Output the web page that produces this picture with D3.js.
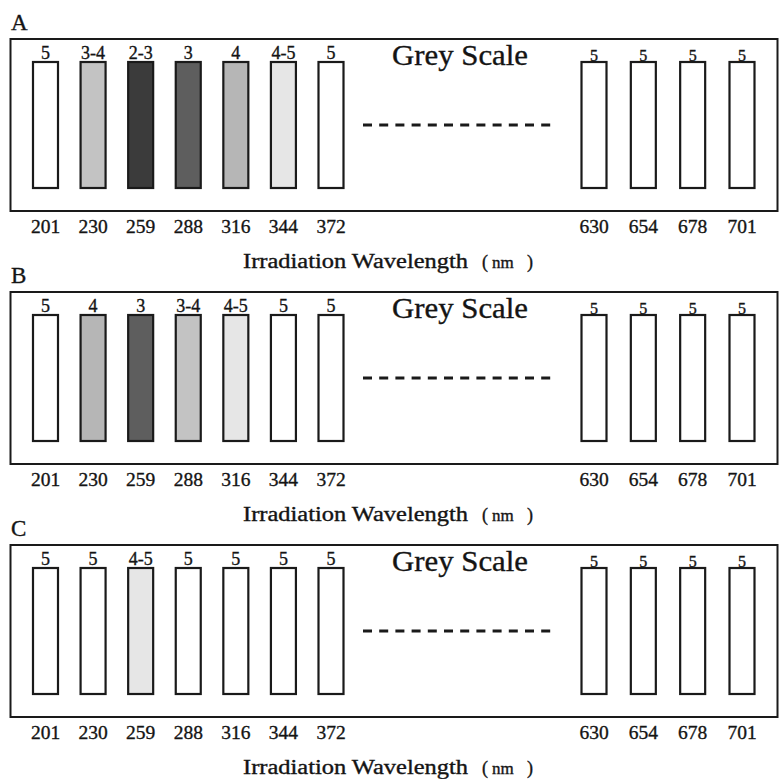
<!DOCTYPE html>
<html>
<head>
<meta charset="utf-8">
<script src="https://cdn.jsdelivr.net/npm/d3@7"></script>
<style>
  body { margin: 0; background: #fff; }
  text { font-family: "Liberation Serif", "DejaVu Serif", serif; fill: #141414; stroke: #141414; stroke-width: 0.35px; }
</style>
</head>
<body>
<script>
//chart data
var panelNames = ["A", "B", "C"];
var leftWavelengths = [201, 230, 259, 288, 316, 344, 372]; //nm, left group
var rightWavelengths = [630, 654, 678, 701]; //nm, right group
var gradesA = ["5", "3-4", "2-3", "3", "4", "4-5", "5", "5", "5", "5", "5"];
var gradesB = ["5", "4", "3", "3-4", "4-5", "5", "5", "5", "5", "5", "5"];
var gradesC = ["5", "5", "4-5", "5", "5", "5", "5", "5", "5", "5", "5"];
var gradeOrder = ["5", "4-5", "4", "3-4", "3", "2-3"];

window.onload = function(){
    var width = 780, height = 779;

    var svg = d3.select("body")
        .append("svg")
        .attr("width", width)
        .attr("height", height);

    //grey shade for each grey scale grade
    var colorScale = d3.scaleOrdinal()
        .domain(gradeOrder)
        .range(["#ffffff", "#e6e6e6", "#b6b6b6", "#c3c3c3", "#5e5e5e", "#3b3b3b"]);

    //bar centres
    var xLeft = d3.scalePoint().domain(leftWavelengths).range([45.5, 331]);
    var xRight = d3.scalePoint().domain(rightWavelengths).range([594, 742]);

    var barWidth = 25;
    var allGrades = [gradesA, gradesB, gradesC];

    panelNames.forEach(function(name, p){
        var top = 39 + 253 * p;
        var g = svg.append("g").attr("transform", "translate(0," + top + ")");

        //bar height scale within the panel
        var y = d3.scaleLinear().domain([0, 1]).range([149, 23]);

        var data = leftWavelengths.map(function(w, i){
            return {wl: w, grade: allGrades[p][i], x: xLeft(w), right: false};
        }).concat(rightWavelengths.map(function(w, i){
            return {wl: w, grade: allGrades[p][leftWavelengths.length + i], x: xRight(w), right: true};
        }));

        //panel letter
        g.append("text")
            .attr("x", 11)
            .attr("y", -9)
            .style("font-size", "23px")
            .text(name);

        //frame
        g.append("rect")
            .attr("x", 10.5)
            .attr("y", 0)
            .attr("width", 767)
            .attr("height", 172)
            .attr("fill", "none")
            .attr("stroke", "#1a1a1a")
            .attr("stroke-width", 2);

        //bars
        g.selectAll(".bar")
            .data(data)
            .enter()
            .append("rect")
            .attr("class", "bar")
            .attr("x", function(d){ return d.x - barWidth / 2; })
            .attr("y", y(1))
            .attr("width", barWidth)
            .attr("height", y(0) - y(1))
            .attr("fill", function(d){ return colorScale(d.grade); })
            .attr("stroke", "#1a1a1a")
            .attr("stroke-width", 2.2);

        //grade labels
        g.selectAll(".grade")
            .data(data)
            .enter()
            .append("text")
            .attr("class", "grade")
            .attr("text-anchor", "middle")
            .attr("x", function(d){ return d.x; })
            .attr("y", function(d){ return d.right ? 21.5 : 20; })
            .style("font-size", function(d){ return d.right ? "16px" : "18px"; })
            .text(function(d){ return d.grade; });

        //wavelength tick labels
        g.selectAll(".wl")
            .data(data)
            .enter()
            .append("text")
            .attr("class", "wl")
            .attr("text-anchor", "middle")
            .attr("x", function(d){ return d.x; })
            .attr("y", 194)
            .style("font-size", "19.5px")
            .text(function(d){ return d.wl; });

        //title in the box
        g.append("text")
            .attr("x", 392)
            .attr("y", 26)
            .attr("textLength", 136)
            .attr("lengthAdjust", "spacingAndGlyphs")
            .style("font-size", "29px")
            .text("Grey  Scale");

        //dashed break line
        g.append("line")
            .attr("x1", 363)
            .attr("x2", 555)
            .attr("y1", 86)
            .attr("y2", 86)
            .attr("stroke", "#1a1a1a")
            .attr("stroke-width", 3)
            .attr("stroke-dasharray", "9,7.2");

        //axis title
        var title = g.append("text")
            .attr("y", 229)
            .style("font-size", "20px");
        title.append("tspan")
            .attr("x", 243)
            .attr("textLength", 225)
            .attr("lengthAdjust", "spacingAndGlyphs")
            .text("Irradiation  Wavelength");
        title.append("tspan")
            .attr("x", 482)
            .style("font-size", "18px")
            .text("(");
        title.append("tspan")
            .attr("x", 492)
            .style("font-size", "17px")
            .text("nm");
        title.append("tspan")
            .attr("x", 527)
            .style("font-size", "18px")
            .text(")");
    });
};
</script>
</body>
</html>
